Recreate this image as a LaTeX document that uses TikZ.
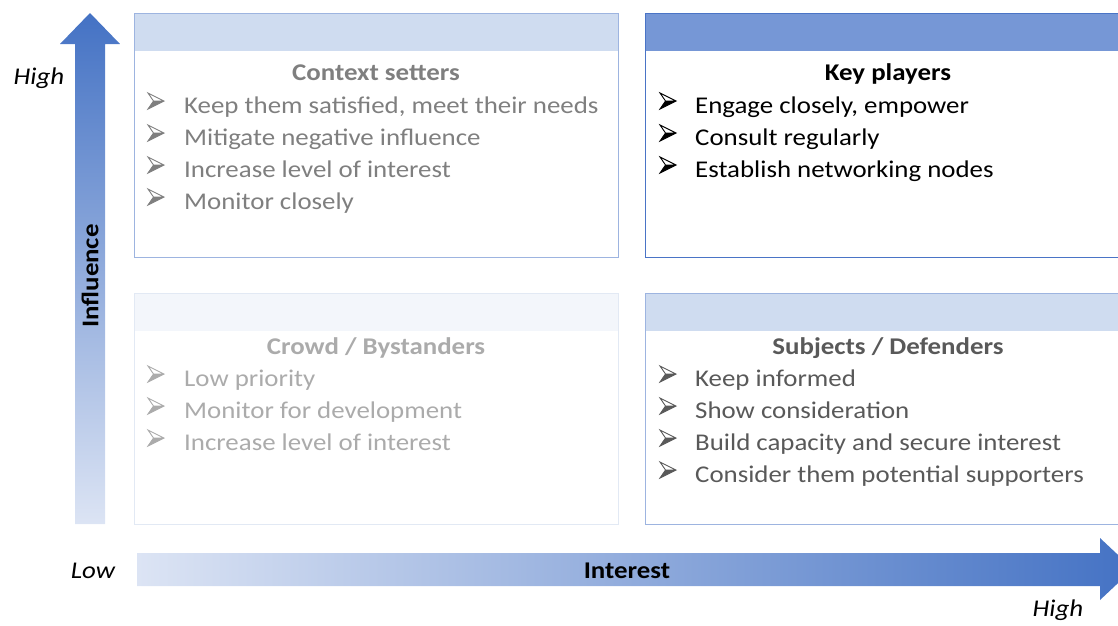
\documentclass[tikz,border=0pt]{standalone}
\usepackage{fontspec}
\setmainfont{Carlito}[FakeStretch=1.12]

\definecolor{axisdark}{HTML}{4472C4}
\definecolor{axislight}{HTML}{DCE4F4}
\definecolor{bandmid}{HTML}{CFDCF0}
\definecolor{banddark}{HTML}{7697D6}
\definecolor{bandpale}{HTML}{F3F6FB}
\definecolor{edgemid}{HTML}{9DB4E0}
\definecolor{edgedark}{HTML}{4A74C6}
\definecolor{edgepale}{HTML}{E2E9F4}
\definecolor{txtmid}{HTML}{7F7F7F}
\definecolor{txtpale}{HTML}{ABABAB}
\definecolor{txtdark}{HTML}{595959}

\tikzset{
  quad/.style={rectangle, inner sep=0pt, minimum width=484pt, minimum height=244pt, anchor=north west, line width=1.2pt},
  band/.style={rectangle, inner sep=0pt, minimum height=38pt, anchor=north west},
  qtitle/.style={anchor=base, inner sep=0pt, font=\fontsize{24}{29}\selectfont\bfseries},
  item/.style={anchor=base west, inner sep=0pt, font=\fontsize{24}{29}\selectfont},
  axlabel/.style={inner sep=0pt, font=\fontsize{24}{29}\selectfont\itshape},
  axname/.style={inner sep=0pt, font=\fontsize{24}{29}\selectfont\bfseries},
  % arrowhead bullet: outlined upper half, filled lower half; origin on the text baseline
  pics/arrowbullet/.style={code={
    \fill[#1] (0,-4) -- (16,-12) -- (5.5,-12) -- cycle;
    \draw[#1, line width=0.9pt, line join=miter] (5.5,-12) -- (0,-20) -- (16,-12) -- (0,-4) -- cycle (5.5,-12) -- (16,-12);
  }}
}

\begin{document}
\begin{tikzpicture}[x=1pt,y=-1pt]
\useasboundingbox (0,0) rectangle (1118,625);
\clip (0,0) rectangle (1118,625);

% influence axis (vertical arrow)
\shade[top color=axisdark, bottom color=axislight]
  (75,524) -- (75,44) -- (60,44) -- (90,13) -- (120,44) -- (105,44) -- (105,524) -- cycle;
\node[axname, rotate=90] (influence) at (90,276) {Influence};
\node[axlabel] (highy) at (39,78) {High};

% interest axis (horizontal arrow)
\shade[left color=axislight, right color=axisdark]
  (137,553) -- (1100,553) -- (1100,538) -- (1133,569) -- (1100,600) -- (1100,586) -- (137,586) -- cycle;
\node[axname] (interest) at (627,571) {Interest};
\node[axlabel] (lowx) at (93,571) {Low};
\node[axlabel] (highx) at (1058,610) {High};

% context setters (top left)
\node[band, fill=bandmid, minimum width=484pt] (csband) at (134,13) {};
\node[quad, draw=edgemid] (cs) at (134,13) {};
\node[qtitle, text=txtmid] (cstitle) at (376,80) {Context setters};
\pic at (148,113) {arrowbullet=txtmid};
\node[item, text=txtmid] (cs1) at (184,113) {Keep them satisfied, meet their needs};
\pic at (148,145) {arrowbullet=txtmid};
\node[item, text=txtmid] (cs2) at (184,145) {Mitigate negative influence};
\pic at (148,177) {arrowbullet=txtmid};
\node[item, text=txtmid] (cs3) at (184,177) {Increase level of interest};
\pic at (148,209) {arrowbullet=txtmid};
\node[item, text=txtmid] (cs4) at (184,209) {Monitor closely};

% key players (top right)
\node[band, fill=banddark, minimum width=490pt] (kpband) at (645,13) {};
\node[quad, draw=edgedark, minimum width=490pt] (kp) at (645,13) {};
\node[qtitle, text=black] (kptitle) at (888,80) {Key players};
\pic at (660,113) {arrowbullet=black};
\node[item, text=black] (kp1) at (695,113) {Engage closely, empower};
\pic at (660,145) {arrowbullet=black};
\node[item, text=black] (kp2) at (695,145) {Consult regularly};
\pic at (660,177) {arrowbullet=black};
\node[item, text=black] (kp3) at (695,177) {Establish networking nodes};

% crowd / bystanders (bottom left)
\node[band, fill=bandpale, minimum width=484pt] (cbband) at (134,293) {};
\node[quad, draw=edgepale, minimum height=231pt] (cb) at (134,293) {};
\node[qtitle, text=txtpale] (cbtitle) at (376,354) {Crowd / Bystanders};
\pic at (148,386) {arrowbullet=txtpale};
\node[item, text=txtpale] (cb1) at (184,386) {Low priority};
\pic at (148,418) {arrowbullet=txtpale};
\node[item, text=txtpale] (cb2) at (184,418) {Monitor for development};
\pic at (148,450) {arrowbullet=txtpale};
\node[item, text=txtpale] (cb3) at (184,450) {Increase level of interest};

% subjects / defenders (bottom right)
\node[band, fill=bandmid, minimum width=490pt] (sdband) at (645,293) {};
\node[quad, draw=edgemid, minimum width=490pt, minimum height=231pt] (sd) at (645,293) {};
\node[qtitle, text=txtdark] (sdtitle) at (888,354) {Subjects / Defenders};
\pic at (660,386) {arrowbullet=txtdark};
\node[item, text=txtdark] (sd1) at (695,386) {Keep informed};
\pic at (660,418) {arrowbullet=txtdark};
\node[item, text=txtdark] (sd2) at (695,418) {Show consideration};
\pic at (660,450) {arrowbullet=txtdark};
\node[item, text=txtdark] (sd3) at (695,450) {Build capacity and secure interest};
\pic at (660,482) {arrowbullet=txtdark};
\node[item, text=txtdark] (sd4) at (695,482) {Consider them potential supporters};
\end{tikzpicture}
\end{document}
